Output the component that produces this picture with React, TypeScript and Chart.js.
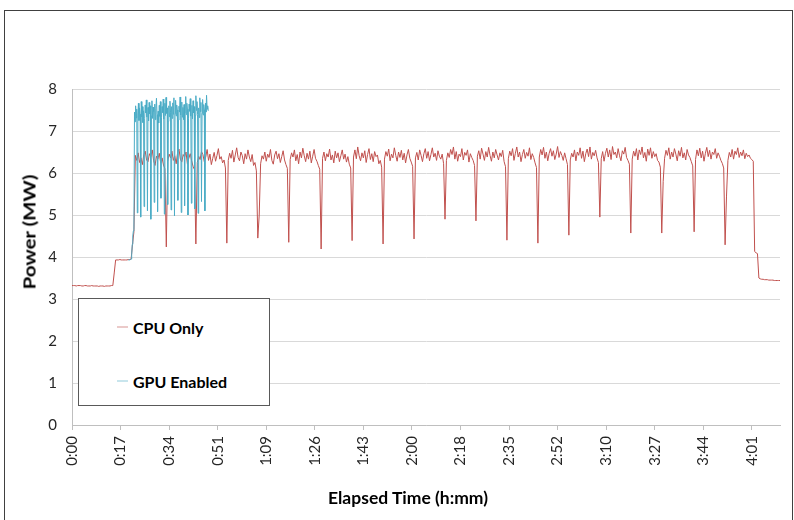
import React, { useEffect, useRef } from 'react';
import { Chart, registerables } from 'chart.js';

Chart.register(...registerables);

// ---- data (minutes since start, power in MW) ----
const cpuStartMin = 0;
const cpuStepMin = 0.5;
const cpuValues = [
  3.32, 3.32, 3.32, 3.31, 3.32, 3.32, 3.32, 3.31, 3.31, 3.32, 3.32, 3.31, 3.31, 3.31, 3.32,
  3.31, 3.31, 3.31, 3.31, 3.30, 3.31, 3.31, 3.31, 3.30, 3.31, 3.31, 3.31, 3.31, 3.32, 3.32,
  3.62,
  3.93, 3.93, 3.93, 3.94, 3.93, 3.93, 3.93, 3.93, 3.93, 3.94, 3.94, 3.95,
  4.30, 4.60,
  6.42, 6.30, 6.48, 6.25, 6.36, 6.20, 6.44, 6.52, 6.31, 6.27, 6.46, 6.38, 6.55, 6.29, 6.18, 6.40, 6.33, 6.47, 6.24, 6.36, 6.19, 6.10,
  4.24,
  6.28, 6.45, 6.36, 6.52, 6.30, 6.41, 6.22, 6.48, 6.57, 6.33, 6.26, 6.44, 6.38, 6.50, 6.21, 6.35, 6.46, 6.29, 6.16, 6.08,
  4.31,
  6.25, 6.40, 6.32, 6.51, 6.44, 6.27, 6.38, 6.56, 6.30, 6.45, 6.20, 6.35, 6.49, 6.28, 6.42, 6.58, 6.33, 6.39, 6.24, 6.31, 6.12,
  4.33,
  6.30, 6.47, 6.35, 6.54, 6.26, 6.43, 6.60, 6.37, 6.29, 6.50, 6.41, 6.22, 6.46, 6.33, 6.55, 6.38, 6.27, 6.44, 6.18, 6.25, 6.05,
  4.45, 5.00,
  6.22, 6.41, 6.33, 6.50, 6.28, 6.45, 6.37, 6.56, 6.30, 6.21, 6.43, 6.52, 6.34, 6.46, 6.25, 6.39, 6.53, 6.31, 6.20, 6.11,
  4.35,
  6.32, 6.48, 6.38, 6.55, 6.29, 6.44, 6.22, 6.50, 6.36, 6.59, 6.41, 6.27, 6.47, 6.33, 6.52, 6.24, 6.40, 6.56, 6.35, 6.28, 6.18, 6.09,
  4.19,
  6.35, 6.50, 6.29, 6.46, 6.38, 6.57, 6.31, 6.43, 6.24, 6.52, 6.36, 6.48, 6.27, 6.41, 6.55, 6.33, 6.45, 6.26, 6.39, 6.21, 6.12,
  4.39,
  6.38, 6.55, 6.34, 6.62, 6.41, 6.29, 6.48, 6.36, 6.53, 6.25, 6.44, 6.58, 6.32, 6.46, 6.27, 6.51, 6.39, 6.43, 6.22, 6.30, 6.14,
  4.31,
  6.33, 6.51, 6.40, 6.57, 6.29, 6.45, 6.36, 6.60, 6.42, 6.28, 6.50, 6.37, 6.54, 6.31, 6.47, 6.24, 6.43, 6.56, 6.35, 6.26, 6.16,
  4.43,
  6.36, 6.49, 6.31, 6.55, 6.42, 6.27, 6.46, 6.58, 6.35, 6.51, 6.29, 6.44, 6.60, 6.38, 6.47, 6.30, 6.53, 6.40, 6.33, 6.45, 6.22,
  4.90,
  6.30, 6.48, 6.37, 6.56, 6.44, 6.62, 6.33, 6.51, 6.28, 6.45, 6.39, 6.58, 6.31, 6.49, 6.42, 6.55, 6.26, 6.46, 6.37, 6.30, 6.18,
  4.86,
  6.40, 6.53, 6.33, 6.59, 6.45, 6.30, 6.51, 6.38, 6.61, 6.42, 6.28, 6.50, 6.36, 6.56, 6.43, 6.31, 6.48, 6.39, 6.54, 6.27, 6.15,
  4.40,
  6.34, 6.52, 6.41, 6.58, 6.30, 6.47, 6.62, 6.38, 6.50, 6.27, 6.44, 6.56, 6.35, 6.49, 6.40, 6.60, 6.32, 6.46, 6.37, 6.24, 6.13,
  4.33,
  6.38, 6.56, 6.43, 6.61, 6.35, 6.50, 6.29, 6.47, 6.58, 6.40, 6.53, 6.32, 6.45, 6.63, 6.37, 6.51, 6.42, 6.30, 6.48, 6.34, 6.20,
  4.52,
  6.31, 6.47, 6.38, 6.55, 6.29, 6.50, 6.42, 6.60, 6.35, 6.52, 6.27, 6.46, 6.57, 6.39, 6.62, 6.33, 6.49, 6.41, 6.54, 6.36, 6.25,
  4.95,
  6.34, 6.51, 6.28, 6.47, 6.59, 6.38, 6.55, 6.32, 6.63, 6.44, 6.50, 6.36, 6.58, 6.41, 6.29, 6.53, 6.45, 6.61, 6.37, 6.30, 6.21,
  4.57,
  6.33, 6.52, 6.40, 6.58, 6.31, 6.55, 6.44, 6.62, 6.36, 6.49, 6.28, 6.57, 6.42, 6.60, 6.35, 6.51, 6.39, 6.46, 6.30, 6.26, 6.14,
  4.57, 5.80,
  6.35, 6.54, 6.42, 6.60, 6.33, 6.50, 6.38, 6.58, 6.45, 6.29, 6.53, 6.40, 6.61, 6.36, 6.48, 6.31, 6.56, 6.43, 6.37, 6.27, 6.17,
  4.60,
  6.32, 6.55, 6.41, 6.59, 6.36, 6.52, 6.28, 6.47, 6.61, 6.39, 6.54, 6.33, 6.50, 6.44, 6.58, 6.35, 6.48, 6.40, 6.30, 6.23, 6.12,
  4.29, 5.45,
  6.30, 6.49, 6.38, 6.56, 6.33, 6.52, 6.44, 6.60, 6.37, 6.50, 6.41, 6.55, 6.34, 6.47, 6.39, 6.43, 6.35, 6.32, 6.28,
  4.13, 4.10, 4.08, 3.50,
  3.48, 3.47, 3.47, 3.46, 3.46, 3.46, 3.45, 3.45, 3.45, 3.45, 3.44, 3.44, 3.44, 3.44, 3.44,
];

const gpuStartMin = 20;
const gpuStepMin = 0.2;
const gpuValues = [
  3.93, 3.93, 3.93, 3.94, 3.94, 3.95, 4.05, 4.30, 4.50, 4.62, 4.65,
  7.45, 7.22, 7.60, 7.31, 7.52, 5.05,
  7.38, 7.66, 7.25, 7.55, 7.40, 4.95,
  7.70, 7.34, 7.58, 7.20, 7.48, 5.20,
  7.29, 7.62, 7.43, 7.74, 7.33, 5.10,
  7.56, 7.24, 7.68, 7.41, 7.60, 4.90,
  7.36, 7.72, 7.30, 7.57, 7.46, 5.30,
  7.64, 7.27, 7.53, 7.78, 7.39, 5.08,
  7.47, 7.19, 7.61, 7.35, 7.70, 5.40,
  7.32, 7.58, 7.44, 7.76, 7.28, 5.02,
  7.66, 7.37, 7.80, 7.42, 7.55, 5.25,
  7.23, 7.60, 7.34, 7.71, 7.45, 5.12,
  7.58, 7.30, 7.67, 7.40, 7.79, 4.98,
  7.41, 7.73, 7.36, 7.62, 7.50, 5.35,
  7.26, 7.59, 7.45, 7.81, 7.38, 5.06,
  7.69, 7.33, 7.56, 7.27, 7.63, 5.22,
  7.44, 7.82, 7.39, 7.66, 7.52, 5.00,
  7.30, 7.64, 7.47, 7.77, 7.35, 5.28,
  7.61, 7.29, 7.72, 7.43, 7.58, 5.15,
  7.37, 7.84, 7.49, 7.70, 7.40, 5.04,
  7.55, 7.32, 7.79, 7.46, 7.68, 5.32,
  7.42, 7.75, 7.38, 7.63, 7.51, 5.10,
  7.66, 7.45, 7.85, 7.52, 7.60, 7.48,
];

const xMaxMin = 251.5;
const tickMinutes = [0, 17.25, 34.5, 51.75, 69, 86.25, 103.5, 120.75, 138, 155.25, 172.5, 189.75, 207, 224.25, 241.5];
const tickLabels = ['0:00', '0:17', '0:34', '0:51', '1:09', '1:26', '1:43', '2:00', '2:18', '2:35', '2:52', '3:10', '3:27', '3:44', '4:01'];
const seriesNames = ['CPU Only', 'GPU Enabled'];
const seriesColors = ['#c0504d', '#4bacc6'];

const FONT = 'Lato, "Open Sans", sans-serif';

export default function App() {
  const canvasRef = useRef<HTMLCanvasElement | null>(null);

  useEffect(() => {
    const canvas = canvasRef.current;
    if (!canvas) return;
    const cpuData = cpuValues.map((v, i) => ({ x: cpuStartMin + i * cpuStepMin, y: v }));
    const gpuData = gpuValues.map((v, i) => ({ x: gpuStartMin + i * gpuStepMin, y: v }));

    const chart = new Chart(canvas, {
      type: 'line',
      data: {
        datasets: [
          {
            label: seriesNames[0],
            data: cpuData,
            borderColor: seriesColors[0],
            borderWidth: 1,
            pointRadius: 0,
            tension: 0,
            fill: false,
            order: 1,
          },
          {
            label: seriesNames[1],
            data: gpuData,
            borderColor: seriesColors[1],
            borderWidth: 1,
            pointRadius: 0,
            tension: 0,
            fill: false,
            order: 0,
          },
        ],
      },
      options: {
        responsive: false,
        animation: false,
        devicePixelRatio: 1,
        layout: { padding: { left: 0, right: 14, top: 89, bottom: 0 } },
        plugins: {
          legend: { display: false },
          tooltip: { enabled: false },
          title: { display: false },
        },
        scales: {
          x: {
            type: 'linear',
            min: 0,
            max: xMaxMin,
            afterBuildTicks: (scale: any) => {
              scale.ticks = tickMinutes.map((v) => ({ value: v }));
            },
            afterFit: (scale: any) => {
              scale.height = 95;
            },
            grid: {
              drawOnChartArea: false,
              drawTicks: true,
              tickLength: 5,
              color: '#bfbfbf',
            },
            border: { display: true, color: '#bfbfbf' },
            ticks: {
              autoSkip: false,
              maxRotation: 90,
              minRotation: 90,
              padding: 6,
              color: '#262626',
              font: { family: FONT, size: 15 },
              callback: (value: any) => {
                const idx = tickMinutes.indexOf(Number(value));
                return idx >= 0 ? tickLabels[idx] : '';
              },
            },
          },
          y: {
            type: 'linear',
            min: 0,
            max: 8,
            afterFit: (scale: any) => {
              scale.width = 72;
            },
            grid: {
              drawTicks: false,
              color: '#d9d9d9',
            },
            border: { display: true, color: '#bfbfbf' },
            ticks: {
              stepSize: 1,
              padding: 15,
              color: '#262626',
              font: { family: FONT, size: 15 },
            },
          },
        },
      },
    });
    return () => chart.destroy();
  }, []);

  return (
    <div style={{ position: 'absolute', left: 0, top: 0, width: 794, height: 520, background: '#fff', overflow: 'hidden', fontFamily: FONT }}>
      <div style={{ position: 'absolute', left: 4, top: 10, width: 789, height: 540, border: '1px solid #404040', boxSizing: 'border-box' }} />
      <canvas ref={canvasRef} width={794} height={520} style={{ position: 'absolute', left: 0, top: 0, width: 794, height: 520 }} />
      <div
        style={{
          position: 'absolute',
          left: 29,
          top: 232,
          transform: 'translate(-50%, -50%) rotate(-90deg) scaleX(1.2)',
          whiteSpace: 'nowrap',
          fontWeight: 700,
          fontSize: 17,
          color: '#000',
        }}
      >
        Power (MW)
      </div>
      <div
        style={{
          position: 'absolute',
          left: 408,
          top: 497,
          transform: 'translate(-50%, -50%)',
          whiteSpace: 'nowrap',
          fontWeight: 700,
          fontSize: 17.5,
          color: '#000',
        }}
      >
        Elapsed Time (h:mm)
      </div>
      <div
        style={{
          position: 'absolute',
          left: 78,
          top: 298,
          width: 192,
          height: 108,
          border: '1px solid #595959',
          background: '#fff',
          boxSizing: 'border-box',
        }}
      >
        {seriesNames.map((name, i) => (
          <div
            key={name}
            style={{
              position: 'absolute',
              left: 38,
              top: i === 0 ? 28 : 82,
              transform: 'translateY(-50%)',
              display: 'flex',
              alignItems: 'center',
              whiteSpace: 'nowrap',
            }}
          >
            <span style={{ display: 'inline-block', width: 11, height: 1, background: seriesColors[i], opacity: 0.6, marginRight: 5 }} />
            <span style={{ fontWeight: 700, fontSize: 16, color: '#000' }}>{name}</span>
          </div>
        ))}
      </div>
    </div>
  );
}
